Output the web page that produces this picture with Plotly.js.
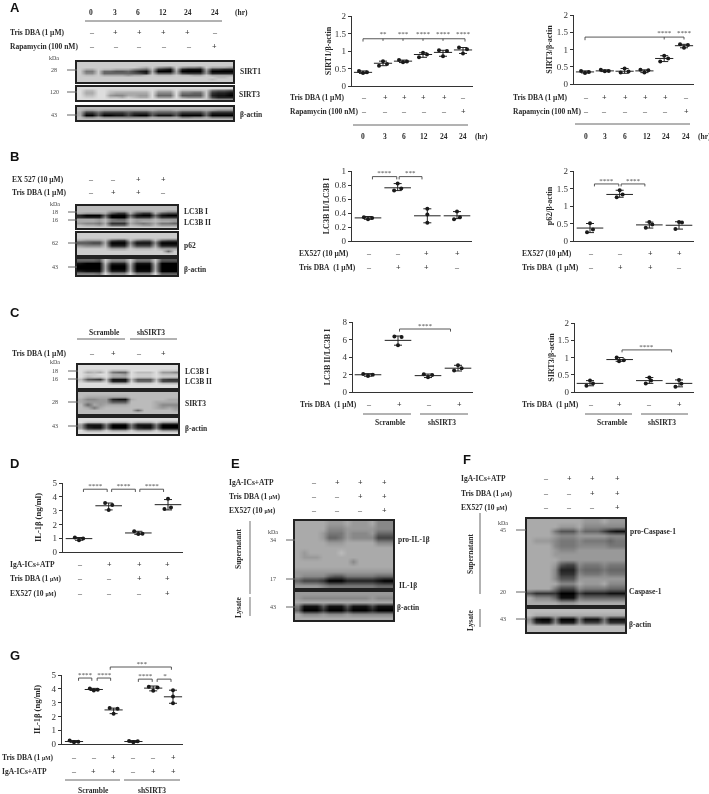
<!DOCTYPE html>
<html>
<head>
<meta charset="utf-8">
<script src="https://cdn.plot.ly/plotly-3.0.1.min.js"></script>
<style>
html,body{margin:0;padding:0;background:#fff}
#chart-area{filter:blur(0.35px)}
</style>
</head>
<body>
<div id="chart-area" style="width:709px;height:794px"></div>
<script>
'use strict';

// scatter values, three replicates per group
const sirt1_x = [-.2,0,.2, .8,1,1.2, 1.8,2,2.2, 2.8,3,3.2, 3.8,4,4.2, 4.8,5,5.2];
const sirt1_y = [.43,.37,.39, .58,.71,.63, .74,.68,.70, .82,.95,.90, 1.02,.85,1.0, 1.1,.93,1.05];
const sirt1_mean = [.39,.65,.71,.90,.96,1.03];
const sirt1_low = [.36,.58,.67,.82,.85,.93];
const sirt1_high = [.43,.71,.74,.95,1.02,1.1];
const sirt1_bracket_x = [0,0,5.1,5.1,null,1,1,null,2,2,null,3,3,null,4,4];
const sirt1_bracket_y = [1.27,1.35,1.35,1.27,null,1.35,1.29,null,1.35,1.29,null,1.35,1.29,null,1.35,1.29];
const sirt1_star_x = [1,2,3,4,5];
const sirt1_star_y = [1.47,1.47,1.47,1.47,1.47];
const sirt1_star = ["**","***","****","****","****"];

const sirt3a_x = [-.2,0,.2, .8,1,1.2, 1.8,2,2.2, 2.8,3,3.2, 3.8,4,4.2, 4.8,5,5.2];
const sirt3a_y = [.38,.32,.35, .41,.37,.38, .33,.45,.36, .41,.33,.40, .65,.82,.74, 1.15,1.05,1.13];
const sirt3a_mean = [.35,.38,.37,.38,.74,1.11];
const sirt3a_low = [.32,.36,.31,.33,.65,1.05];
const sirt3a_high = [.38,.41,.45,.41,.82,1.15];
const sirt3a_bracket_x = [0,0,5,5,null,4,4];
const sirt3a_bracket_y = [1.27,1.36,1.36,1.29,null,1.36,1.29];
const sirt3a_star_x = [4,5];
const sirt3a_star_y = [1.47,1.47];
const sirt3a_star = ["****","****"];

const lc3b_x = [-.14,0,.14, .88,1,1.12, 2,2,2, 2.9,3,3.1];
const lc3b_y = [.34,.31,.33, .72,.82,.75, .26,.46,.38, .31,.42,.34];
const lc3b_mean = [.33,.76,.36,.36];
const lc3b_low = [.31,.72,.26,.32];
const lc3b_high = [.35,.82,.46,.42];
const lc3b_bracket_x = [.15,.15,.97,.97,null,1.05,1.05,1.82,1.82];
const lc3b_bracket_y = [.88,.92,.92,.88,null,.88,.92,.92,.88];
const lc3b_star_x = [.55,1.42];
const lc3b_star_y = [.97,.97];
const lc3b_star = ["****","***"];

const p62_x = [-.1,0,.1, .9,1,1.1, 1.88,2,2.1, 2.88,3,3.1];
const p62_y = [.25,.51,.33, 1.25,1.45,1.33, .38,.54,.47, .34,.54,.53];
const p62_mean = [.37,1.33,.46,.45];
const p62_low = [.24,1.25,.37,.34];
const p62_high = [.5,1.45,.54,.55];
const p62_bracket_x = [.15,.15,.97,.97,null,1.05,1.05,1.85,1.85];
const p62_bracket_y = [1.56,1.63,1.63,1.56,null,1.56,1.63,1.63,1.56];
const p62_star_x = [.55,1.45];
const p62_star_y = [1.72,1.72];
const p62_star = ["****","****"];

const lc3c_x = [-.16,0,.16, .88,1,1.12, 1.86,2,2.14, 2.87,3,3.12];
const lc3c_y = [2.05,1.82,1.98, 6.35,5.35,6.3, 2.02,1.68,1.95, 2.45,3.05,2.72];
const lc3c_mean = [1.97,5.9,1.87,2.72];
const lc3c_low = [1.8,5.35,1.65,2.4];
const lc3c_high = [2.1,6.4,2.05,3.05];
const lc3c_bracket_x = [1.05,1.05,2.75,2.75];
const lc3c_bracket_y = [6.9,7.2,7.2,6.9];
const lc3c_star_x = [1.9];
const lc3c_star_y = [7.55];
const lc3c_star = ["****"];

const sirt3c_x = [-.12,0,.1, .9,.98,1.14, 1.88,2,2.06, 2.88,3,3.08];
const sirt3c_y = [.18,.33,.25, 1.0,.89,.92, .25,.42,.33, .15,.35,.24];
const sirt3c_mean = [.25,.94,.33,.25];
const sirt3c_low = [.18,.89,.25,.15];
const sirt3c_high = [.33,1.0,.42,.35];
const sirt3c_bracket_x = [1.08,1.08,2.75,2.75];
const sirt3c_bracket_y = [1.15,1.22,1.22,1.15];
const sirt3c_star_x = [1.9];
const sirt3c_star_y = [1.3];
const sirt3c_star = ["****"];

const il1d_x = [-.14,0,.14, .88,1,1.12, 1.86,2,2.14, 2.88,3,3.1];
const il1d_y = [1.05,.85,.98, 3.55,3.05,3.4, 1.5,1.3,1.33, 3.12,3.85,3.22];
const il1d_mean = [.97,3.35,1.38,3.43];
const il1d_low = [.85,3.05,1.28,3.05];
const il1d_high = [1.05,3.55,1.5,3.8];
const il1d_bracket_x = [.15,.15,.95,.95,null,1.1,1.1,1.9,1.9,null,2.05,2.05,2.85,2.85];
const il1d_bracket_y = [4.35,4.55,4.55,4.35,null,4.35,4.55,4.55,4.35,null,4.35,4.55,4.55,4.35];
const il1d_star_x = [.55,1.5,2.45];
const il1d_star_y = [4.75,4.75,4.75];
const il1d_star = ["****","****","****"];

const il1g_x = [-.22,0,.22, .8,1,1.2, 1.8,2,2.2, 2.78,3,3.22, 3.78,4,4.22, 5,5,5];
const il1g_y = [.25,.12,.17, 4.03,3.88,3.93, 2.6,2.2,2.55, .22,.13,.2, 4.15,3.85,4.1, 2.95,3.9,3.45];
const il1g_mean = [.18,3.95,2.47,.18,4.05,3.42];
const il1g_low = [.12,3.88,2.2,.12,3.85,2.95];
const il1g_high = [.25,4.03,2.6,.25,4.2,3.9];
const il1g_bracket_x = [.23,.23,.9,.9,null,1.17,1.17,1.85,1.85,null,3.25,3.25,3.95,3.95,null,4.2,4.2,4.9,4.9,null,1.83,1.83,4.92,4.92];
const il1g_bracket_y = [4.58,4.78,4.78,4.58,null,4.58,4.78,4.78,4.58,null,4.5,4.7,4.7,4.5,null,4.5,4.7,4.7,4.5,null,5.38,5.58,5.58,5.38];
const il1g_star_x = [.55,1.53,3.6,4.6,3.42];
const il1g_star_y = [4.98,4.98,4.88,4.88,5.8];
const il1g_star = ["****","****","****","*","***"];

// blot densities, one character per cell, 0 = black, f = white
const blot_a_sirt1 = [
    "c cc c cccc cccc c ccc c cccc c cccc",
    "c cc c cccc cccc c ccc c cccc c cccc",
    "c cc c cccc ccba c 987 c 9887 c aaa9",
    "c aa c bbaa a876 b 321 b 2111 a 3322",
    "c 77 c 6655 6421 a 000 a 0000 9 0000",
    "c 88 c 6666 6542 b 555 a 4333 9 2222",
    "c bb c aaaa 9aab c bbb c bbaa c aaaa",
    "c cc c cccc cccc c ccc c cccc c cbbc",
    "c cc c cccc cccc c ccc c cccc c bccc",
    "c cc c cccc cccc c ccc c cccc c cccc",
];
const blot_a_sirt3 = [
    "d dd d dddd dddd d ddd d dddd d dddd",
    "d bb d dccc cccc d bbb d bbbb c 7665",
    "d aa d dbaa aaaa d 888 d 7766 c 3221",
    "d bb d d988 aa99 d 666 d 5555 c 2110",
    "d cc d dbba cbaa d 999 d 9888 c 4222",
    "d dd d dddd dddd d ddd d dddd c 9888",
];
const blot_a_actin = [
    "b bb b bbbb bbbb b bbb b bbbb b bbbb",
    "b 99 a 9999 9999 a 999 a 9999 a 9888",
    "a 33 6 3333 5333 6 555 6 3333 7 2222",
    "a 00 5 0011 4100 5 111 5 0000 6 0000",
    "b 88 a 8888 8888 a 999 a 7788 a 7777",
    "b bb b bbbb bbbb b bbb b bbbb b bbbb",
];
const blot_b_lc3 = [
    "bbbb b bbb b bbb b bbb",
    "bbbb b bbb b bbb b bbb",
    "bbbb b 999 b 999 b a99",
    "a999 a 533 a 533 a 544",
    "2000 6 000 6 100 6 100",
    "3222 8 000 8 333 8 333",
    "aaa9 b 766 b 999 b 999",
    "aaa9 b 777 b 9aa b aa9",
    "9887 a 333 a 878 a 776",
    "baa9 b 666 b a99 b 999",
    "cccc c ccc c ccc c ccc",
];
const blot_b_p62 = [
    "cccc c ccc c ccc c ccc",
    "cccc c ccc c ccc c ccc",
    "a999 b 544 b 766 b 655",
    "5544 a 000 8 111 8 000",
    "9888 b 222 a 444 a 222",
    "cccc c aaa c bbb c aaa",
    "cccc c ccc c ccc c c6c",
    "cccc c ccc c ccc c ccc",
];
const blot_b_actin = [
    "6665 c 888 c 777 c 555",
    "1000 b 222 b 111 b 000",
    "0000 a 000 a 000 a 000",
    "0000 a 000 a 000 a 000",
    "2111 b 222 b 111 b 000",
    "8887 d 999 d 888 d 666",
];
const blot_c_lc3 = [
    "d ddd d ddd d ddd d ddd",
    "d ddd d ddd d ddd d ddd",
    "d ccc d bbb d ddd d ccc",
    "d aba d 766 d bbb d 998",
    "d ccd d aa9 d ccc d bbb",
    "d bcc d aaa d ccc d ccc",
    "b 543 b 111 b 555 b 433",
    "c 999 c 222 c 666 c 444",
    "d ddd d aaa d ccc d bbb",
    "d ddd d ddd d ddd d ddd",
    "d ddd d ddd d ddd d ddd",
];
const blot_c_sirt3 = [
    "b bbb b bbb b bbb b bbb",
    "b aaa a aaa b bbb b bbb",
    "a 889 9 211 a bbb b baa",
    "a 999 9 555 b bbb a aaa",
    "b 6a9 a aaa b bbb a 888",
    "b a7a b bbb b bbb a 9a9",
    "b bbb b bbb b 6bb b bba",
    "b bbb b bbb b bbb b bbb",
];
const blot_c_actin = [
    "d ddd d ddd d ddd d ddd",
    "d bbb c aaa c aaa c 999",
    "9 111 7 000 7 111 7 000",
    "9 211 7 000 7 211 7 000",
    "d 999 c 999 c 999 c 888",
    "d ddd d ddd d ddd d ddd",
];
const blot_e_il1 = [
    "a aaa a 999 a 999 a 888",
    "a aaa a 888 9 999 9 888",
    "a aaa 9 777 9 888 9 666",
    "a aaa 9 667 9 888 8 444",
    "a aaa a 999 a aaa a 888",
    "a aaa a aaa a aaa a aaa",
    "a 9aa a aab a aaa a aaa",
    "a 999 a aaa a aaa a aaa",
    "a aaa a aaa a 8aa a aaa",
    "a aaa a aaa a aaa a aaa",
    "9 999 9 999 9 999 9 999",
    "9 888 8 655 7 777 7 666",
    "6 444 3 000 2 222 2 100",
    "9 999 8 777 7 777 7 666",
];
const blot_e_actin = [
    "9 999 9 999 9 999 9 999",
    "9 888 8 888 8 888 9 888",
    "a aaa a aaa a aaa a aaa",
    "7 111 5 111 5 111 4 111",
    "6 000 3 000 3 000 2 000",
    "a 888 9 888 9 888 8 888",
    "a aaa a aaa a aaa a aaa",
];
const blot_f_casp = [
    "a aaa a aaa a 999 a 999",
    "a aaa a 999 a 888 8 888",
    "a aaa 7 555 8 666 4 211",
    "a aaa 9 888 9 999 9 888",
    "a 999 8 777 8 777 7 677",
    "a aaa 8 777 8 888 8 777",
    "a aaa 9 888 9 999 9 999",
    "a aaa 9 999 9 999 9 999",
    "a aaa a 999 9 999 9 999",
    "a aaa 9 544 8 777 8 777",
    "a aaa 8 222 7 666 7 666",
    "a aaa 8 333 8 777 8 777",
    "a aaa 8 555 9 999 9 999",
    "a aaa a 888 a 999 a 888",
    "a aaa 7 444 8 777 7 666",
    "5 333 3 000 4 222 2 111",
    "a 888 6 111 7 666 6 666",
    "a aaa a 999 a aaa a aaa",
];
const blot_f_actin = [
    "b bbb b bbb b bbb b bbb",
    "b aaa a aaa a aaa a aaa",
    "8 100 7 000 7 111 7 111",
    "9 322 8 222 8 444 8 333",
    "b bbb b bbb b bbb b bbb",
    "b bbb b bbb b bbb b bbb",
];

const W = 709, H = 794;
const SERIF = "Liberation Serif";
const DARK = "#2a2a2a";
const UM_SMALL = '<span style="font-size:5.5px">µM</span>';

let traces = [];
let layout = {
    width: W, height: H,
    margin: { l: 0, r: 0, t: 0, b: 0 },
    paper_bgcolor: "#fff", plot_bgcolor: "rgba(0,0,0,0)",
    showlegend: false, hovermode: false,
    font: { family: SERIF, color: DARK },
    annotations: [], shapes: [],
};
let axis_count = 0;

function px_x(x) { return x / W; }
function px_y(y) { return 1 - y / H; }

function next_axes(x_opts, y_opts) {
    axis_count += 1;
    const suffix = axis_count === 1 ? "" : String(axis_count);
    layout["xaxis" + suffix] = Object.assign({ anchor: "y" + suffix }, x_opts);
    layout["yaxis" + suffix] = Object.assign({ anchor: "x" + suffix }, y_opts);
    return { x: "x" + suffix, y: "y" + suffix };
}

function label(text, x, y, opts) {
    layout.annotations.push(Object.assign({
        text: text, xref: "paper", yref: "paper", x: px_x(x), y: px_y(y),
        xanchor: "left", yanchor: "middle", showarrow: false,
        font: { family: SERIF, size: 7.5, color: DARK },
    }, opts || {}));
}

function bold(text, x, y) { label("<b>" + text + "</b>", x, y); }
function centered(text, x, y) { label("<b>" + text + "</b>", x, y, { xanchor: "center" }); }
function small(text, x, y) { label(text, x, y, { xanchor: "center", font: { family: SERIF, size: 6, color: "#444" } }); }
function panel(text, x, y) {
    label("<b>" + text + "</b>", x, y, { xanchor: "center", font: { family: "Liberation Sans", size: 13, color: "#111" } });
}

function rule(x0, x1, y0, y1, color, width) {
    layout.shapes.push({
        type: "line", xref: "paper", yref: "paper",
        x0: px_x(x0), x1: px_x(x1), y0: px_y(y0), y1: px_y(y1),
        line: { color: color || "#666", width: width || 1 },
    });
}

function treatment(text, left, y, marks, xs) {
    bold(text, left, y);
    [...marks].forEach((m, i) => {
        label("<b>" + (m === "+" ? "+" : "–") + "</b>", xs[i], y, {
            xanchor: "center", font: { family: SERIF, size: 8, color: m === "+" ? "#333" : "#666" },
        });
    });
}

function add_scatter(box, px, py, mean, low, high, bx, by, sx, sy, stars, mean_width) {
    const n = mean.length;
    const unit = (box.last - box.first) / (n - 1);
    const x_range = [(box.left - box.first) / unit, (box.right - box.first) / unit];
    const ax = next_axes({
        domain: [px_x(box.left), px_x(box.right)], range: x_range,
        showticklabels: false, ticks: "", showgrid: false, zeroline: false,
        showline: true, linecolor: "#333", linewidth: 1.2,
    }, {
        domain: [px_y(box.bottom), px_y(box.top)],
        range: box.range, dtick: box.dtick,
        ticks: "outside", ticklen: 3, tickwidth: 1, tickcolor: "#333",
        tickfont: { family: SERIF, size: 9, color: "#333" },
        showgrid: false, zeroline: false,
        showline: true, linecolor: "#333", linewidth: 1.2,
        title: { text: "<b>" + box.title + "</b>", font: { family: SERIF, size: box.title_size, color: DARK }, standoff: box.standoff },
    });
    let means_x = mean.map((_, i) => i);
    traces.push({
        type: "scatter", mode: "markers", xaxis: ax.x, yaxis: ax.y, x: means_x, y: mean, cliponaxis: false,
        marker: { symbol: "line-ew", size: mean_width, color: "#222", line: { color: "#222", width: 1 } },
        error_y: {
            type: "data", symmetric: false,
            array: high.map((v, i) => v - mean[i]), arrayminus: low.map((v, i) => mean[i] - v),
            color: "#222", thickness: 1, width: 4,
        },
    });
    traces.push({
        type: "scatter", mode: "markers", xaxis: ax.x, yaxis: ax.y, x: px, y: py, cliponaxis: false,
        marker: { symbol: "circle", size: 4, color: "#1a1a1a" },
    });
    // brackets that rise above the axis go on a hidden pair with the same scale and more room
    let over = ax;
    if (box.room_top) {
        const scale = (box.bottom - box.top) / box.range[1];
        over = next_axes({
            visible: false, domain: [px_x(box.left), px_x(box.right)], range: x_range,
        }, {
            visible: false, domain: [px_y(box.bottom), px_y(box.room_top)],
            range: [0, (box.bottom - box.room_top) / scale],
        });
    }
    traces.push({
        type: "scatter", mode: "lines", xaxis: over.x, yaxis: over.y, x: bx, y: by, cliponaxis: false,
        line: { color: "#444", width: 0.9 },
    });
    traces.push({
        type: "scatter", mode: "text", xaxis: over.x, yaxis: over.y, x: sx, y: sy, text: stars, cliponaxis: false,
        textposition: "middle center", textfont: { family: SERIF, size: 7, color: "#444" },
    });
}

function add_blot(rows, left, right, top, bottom) {
    const z = rows.map(r => [...r.replace(/\s/g, "")].map(c => parseInt(c, 16)));
    const ax = next_axes({
        domain: [px_x(left), px_x(right)], range: [-0.5, z[0].length - 0.5],
        showticklabels: false, ticks: "", showgrid: false, zeroline: false,
        showline: true, mirror: true, linecolor: "#222", linewidth: 1.5,
    }, {
        domain: [px_y(bottom), px_y(top)], range: [z.length - 0.5, -0.5],
        showticklabels: false, ticks: "", showgrid: false, zeroline: false,
        showline: true, mirror: true, linecolor: "#222", linewidth: 1.5,
    });
    traces.push({
        type: "heatmap", xaxis: ax.x, yaxis: ax.y, z: z, zmin: 0, zmax: 15, zsmooth: "best",
        showscale: false, colorscale: [[0, "#000"], [1, "#fff"]],
    });
}

function kda_tick(text, text_x, y, x0, x1) {
    small(text, text_x, y);
    rule(x0, x1, y, y, "#666", 1);
}

// panel A
panel("A", 15, 7);
[["0", 91], ["3", 115], ["6", 138], ["12", 163], ["24", 188], ["24", 215]].forEach(t => centered(t[0], t[1], 12));
bold("(hr)", 233, 12);
rule(85, 222, 21, 21);
treatment("Tris DBA (1 µM)", 8, 32, "-++++-", [92, 115, 139, 163, 188, 215]);
treatment("Rapamycin (100 nM)", 8, 46, "-----+", [92, 116, 139, 164, 189, 215]);
small("kDa", 54, 58);
add_blot(blot_a_sirt1, 77, 233, 62, 82);
add_blot(blot_a_sirt3, 77, 233, 87, 100);
add_blot(blot_a_actin, 77, 233, 107, 120);
kda_tick("28", 54, 70, 67, 77);
kda_tick("120", 54, 92, 67, 77);
kda_tick("43", 54, 115, 67, 77);
bold("SIRT1", 238, 72);
bold("SIRT3", 237, 94);
bold("β-actin", 238, 114);

add_scatter({ left: 352, right: 473, top: 16, bottom: 86, first: 363, last: 463, range: [0, 2], dtick: 0.5, title: "SIRT1/β-actin", title_size: 8, standoff: 2 },
    sirt1_x, sirt1_y, sirt1_mean, sirt1_low, sirt1_high, sirt1_bracket_x, sirt1_bracket_y, sirt1_star_x, sirt1_star_y, sirt1_star, 13);
treatment("Tris DBA (1 µM)", 288, 98, "-++++-", [364, 385, 404, 424, 444, 463]);
treatment("Rapamycin (100 nM)", 288, 112, "-----+", [364, 385, 404, 424, 444, 463]);
rule(353, 468, 125, 125);
[["0", 363], ["3", 385], ["6", 404], ["12", 424], ["24", 444], ["24", 463]].forEach(t => centered(t[0], t[1], 136));
bold("(hr)", 473, 136);

add_scatter({ left: 574, right: 694, top: 15, bottom: 84, first: 585, last: 684, range: [0, 2], dtick: 0.5, title: "SIRT3/β-actin", title_size: 8, standoff: 3 },
    sirt3a_x, sirt3a_y, sirt3a_mean, sirt3a_low, sirt3a_high, sirt3a_bracket_x, sirt3a_bracket_y, sirt3a_star_x, sirt3a_star_y, sirt3a_star, 13);
treatment("Tris DBA (1 µM)", 511, 98, "-++++-", [586, 604, 625, 645, 665, 686]);
treatment("Rapamycin (100 nM)", 511, 112, "-----+", [586, 604, 625, 645, 665, 686]);
rule(575, 690, 124, 124);
[["0", 586], ["3", 605], ["6", 625], ["12", 647], ["24", 666], ["24", 686]].forEach(t => centered(t[0], t[1], 136));
bold("(hr)", 696, 136);

// panel B
panel("B", 15, 157);
const b_lanes = [91, 113, 138, 163];
treatment("EX 527 (10 µM)", 10, 179, "--++", b_lanes);
treatment("Tris DBA (1 µM)", 10, 193, "-++-", b_lanes);
small("kDa", 55, 204);
add_blot(blot_b_lc3, 77, 177, 206, 228);
add_blot(blot_b_p62, 77, 177, 233, 255);
add_blot(blot_b_actin, 77, 177, 259, 275);
kda_tick("18", 55, 212, 68, 77);
kda_tick("16", 55, 220, 68, 77);
kda_tick("62", 55, 243, 68, 77);
kda_tick("43", 55, 267, 68, 77);
bold("LC3B I", 182, 212);
bold("LC3B II", 182, 222);
bold("p62", 182, 245);
bold("β-actin", 182, 269);

add_scatter({ left: 352, right: 472, top: 171, bottom: 241, first: 368, last: 457, range: [0, 1], dtick: 0.2, title: "LC3B II/LC3B I", title_size: 8, standoff: 4 },
    lc3b_x, lc3b_y, lc3b_mean, lc3b_low, lc3b_high, lc3b_bracket_x, lc3b_bracket_y, lc3b_star_x, lc3b_star_y, lc3b_star, 19);
treatment("EX527 (10 µM)", 297, 253, "--++", [369, 398, 427, 457]);
treatment("Tris DBA&#160;&#160;(1 µM)", 297, 267, "-++-", [369, 398, 427, 457]);

add_scatter({ left: 574, right: 694, top: 171, bottom: 241, first: 590, last: 679, range: [0, 2], dtick: 0.5, title: "p62/β-actin", title_size: 8, standoff: 3 },
    p62_x, p62_y, p62_mean, p62_low, p62_high, p62_bracket_x, p62_bracket_y, p62_star_x, p62_star_y, p62_star, 19);
treatment("EX527 (10 µM)", 520, 253, "--++", [591, 620, 650, 679]);
treatment("Tris DBA&#160;&#160;(1 µM)", 520, 267, "-++-", [591, 620, 650, 679]);

// panel C
panel("C", 15, 312);
centered("Scramble", 104, 332);
centered("shSIRT3", 151, 332);
rule(77, 125, 339, 339);
rule(130, 177, 339, 339);
treatment("Tris DBA (1 µM)", 10, 353, "-+-+", [92, 113, 139, 163]);
small("kDa", 55, 362);
add_blot(blot_c_lc3, 78, 178, 365, 388);
add_blot(blot_c_sirt3, 78, 178, 392, 414);
add_blot(blot_c_actin, 78, 178, 418, 434);
kda_tick("18", 55, 371, 68, 78);
kda_tick("16", 55, 379, 68, 78);
kda_tick("28", 55, 402, 68, 78);
kda_tick("43", 55, 426, 68, 78);
bold("LC3B I", 183, 371);
bold("LC3B II", 183, 381);
bold("SIRT3", 183, 403);
bold("β-actin", 183, 428);

add_scatter({ left: 353, right: 473, top: 322, bottom: 392, first: 368, last: 458, range: [0, 8], dtick: 2, title: "LC3B II/LC3B I", title_size: 8, standoff: 10 },
    lc3c_x, lc3c_y, lc3c_mean, lc3c_low, lc3c_high, lc3c_bracket_x, lc3c_bracket_y, lc3c_star_x, lc3c_star_y, lc3c_star, 19);
treatment("Tris DBA&#160;&#160;(1 µM)", 298, 404, "-+-+", [369, 399, 429, 459]);
rule(363, 411, 414, 414);
rule(420, 468, 414, 414);
centered("Scramble", 390, 422);
centered("shSIRT3", 442, 422);

add_scatter({ left: 575, right: 694, top: 323, bottom: 392, first: 590, last: 679, range: [0, 2], dtick: 0.5, title: "SIRT3/β-actin", title_size: 8, standoff: 2 },
    sirt3c_x, sirt3c_y, sirt3c_mean, sirt3c_low, sirt3c_high, sirt3c_bracket_x, sirt3c_bracket_y, sirt3c_star_x, sirt3c_star_y, sirt3c_star, 19);
treatment("Tris DBA&#160;&#160;(1 µM)", 520, 404, "-+-+", [591, 619, 649, 679]);
rule(585, 632, 414, 414);
rule(641, 688, 414, 414);
centered("Scramble", 612, 422);
centered("shSIRT3", 662, 422);

// panel D
panel("D", 15, 463);
add_scatter({ left: 63, right: 183, top: 483, bottom: 552, first: 79, last: 168, range: [0, 5], dtick: 1, title: "IL-1β (ng/ml)", title_size: 8.5, standoff: 9 },
    il1d_x, il1d_y, il1d_mean, il1d_low, il1d_high, il1d_bracket_x, il1d_bracket_y, il1d_star_x, il1d_star_y, il1d_star, 19);
const d_lanes = [80, 109, 139, 167];
treatment("IgA-ICs+ATP", 8, 564, "-+++", d_lanes);
treatment("Tris DBA (1 " + UM_SMALL + ")", 8, 578, "--++", d_lanes);
treatment("EX527 (10 " + UM_SMALL + ")", 8, 593, "---+", d_lanes);

// panel E
panel("E", 235, 463);
const e_lanes = [314, 337, 360, 384];
treatment("IgA-ICs+ATP", 227, 482, "-+++", e_lanes);
treatment("Tris DBA (1 " + UM_SMALL + ")", 227, 496, "--++", e_lanes);
treatment("EX527 (10 " + UM_SMALL + ")", 227, 510, "---+", e_lanes);
rule(250, 250, 521, 594, "#888", 1.2);
rule(250, 250, 597, 616, "#888", 1.2);
label("<b>Supernatant</b>", 238, 548, { xanchor: "center", textangle: -90 });
label("<b>Lysate</b>", 238, 607, { xanchor: "center", textangle: -90 });
add_blot(blot_e_il1, 295, 393, 521, 588);
add_blot(blot_e_actin, 295, 393, 592, 620);
small("kDa", 273, 532);
kda_tick("34", 273, 540, 286, 295);
kda_tick("17", 273, 579, 286, 295);
kda_tick("43", 273, 607, 286, 295);
bold("pro-IL-1β", 396, 539);
bold("IL-1β", 397, 585);
bold("β-actin", 395, 607);

// panel F
panel("F", 467, 459);
const f_lanes = [546, 569, 592, 617];
treatment("IgA-ICs+ATP", 459, 478, "-+++", f_lanes);
treatment("Tris DBA (1 " + UM_SMALL + ")", 459, 493, "--++", f_lanes);
treatment("EX527 (10 " + UM_SMALL + ")", 459, 507, "---+", f_lanes);
rule(480, 480, 513, 594, "#555", 0.9);
rule(480, 480, 609, 627, "#555", 0.9);
label("<b>Supernatant</b>", 470, 554, { xanchor: "center", textangle: -90 });
label("<b>Lysate</b>", 470, 620, { xanchor: "center", textangle: -90 });
add_blot(blot_f_casp, 527, 625, 519, 605);
add_blot(blot_f_actin, 527, 625, 609, 632);
small("kDa", 503, 523);
kda_tick("45", 503, 530, 516, 526);
kda_tick("20", 503, 592, 516, 526);
kda_tick("43", 503, 619, 516, 526);
bold("pro-Caspase-1", 628, 531);
bold("Caspase-1", 627, 591);
bold("β-actin", 627, 624);

// panel G
panel("G", 15, 655);
add_scatter({ left: 62, right: 183, top: 675, bottom: 744, room_top: 660, first: 74, last: 173, range: [0, 5], dtick: 1, title: "IL-1β (ng/ml)", title_size: 8.5, standoff: 9 },
    il1g_x, il1g_y, il1g_mean, il1g_low, il1g_high, il1g_bracket_x, il1g_bracket_y, il1g_star_x, il1g_star_y, il1g_star, 13);
const g_lanes = [74, 94, 113, 133, 153, 173];
treatment("Tris DBA (1 " + UM_SMALL + ")", 0, 757, "--+--+", g_lanes);
treatment("IgA-ICs+ATP", 0, 771, "-++-++", g_lanes);
rule(65, 120, 780, 780);
rule(124, 180, 780, 780);
centered("Scramble", 93, 790);
centered("shSIRT3", 152, 790);

Plotly.newPlot("chart-area", traces, layout, { displayModeBar: false, responsive: false });
</script>
</body>
</html>
